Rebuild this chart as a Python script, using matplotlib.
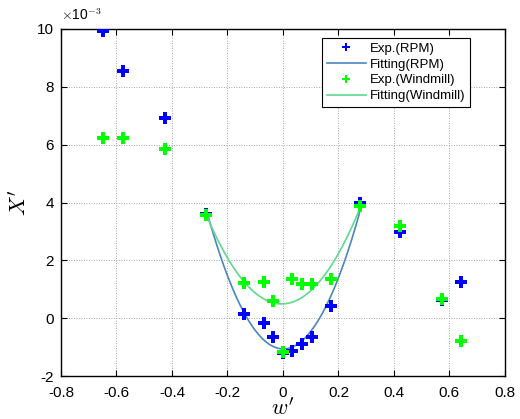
import numpy as np
import matplotlib
matplotlib.use("Agg")
import matplotlib.pyplot as plt
from matplotlib.lines import Line2D

plt.rcParams['font.family'] = ['Liberation Sans', 'DejaVu Sans']
plt.rcParams['mathtext.fontset'] = 'cm'

# Data (X' values in units of 1e-3)
w_rpm = [-0.647, -0.575, -0.424, -0.277, -0.142, -0.070, -0.035, 0.0, 0.034, 0.069, 0.105, 0.174, 0.276, 0.421, 0.575, 0.643]
x_rpm = [9.94, 8.56, 6.93, 3.59, 0.16, -0.15, -0.65, -1.22, -1.12, -0.91, -0.65, 0.43, 3.99, 2.99, 0.62, 1.26]

w_wind = [-0.647, -0.575, -0.424, -0.277, -0.142, -0.070, -0.035, 0.0, 0.034, 0.069, 0.105, 0.174, 0.276, 0.421, 0.575, 0.643]
x_wind = [6.22, 6.24, 5.84, 3.57, 1.20, 1.26, 0.60, -1.17, 1.36, 1.18, 1.17, 1.36, 3.88, 3.19, 0.68, -0.78]

# Fit range
fit_lo, fit_hi = -0.277, 0.276

fig = plt.figure(figsize=(5.2, 4.19), dpi=100)
ax = fig.add_axes([0.1173, 0.1026, 0.8537, 0.8282])

def fit_curve(w, x):
    w = np.array(w); x = np.array(x)
    m = (w >= fit_lo - 1e-9) & (w <= fit_hi + 1e-9)
    p = np.polyfit(w[m], x[m], 2)
    ww = np.linspace(fit_lo, fit_hi, 200)
    return ww, np.polyval(p, ww)

c_rpm_line = '#4a86c0'
c_wind_line = '#5fd88f'

ww, ff = fit_curve(w_rpm, x_rpm)
ax.plot(ww, ff, color=c_rpm_line, lw=1.2, zorder=2)
ww2, ff2 = fit_curve(w_wind, x_wind)
ax.plot(ww2, ff2, color=c_wind_line, lw=1.2, zorder=2)

ax.plot(w_rpm, x_rpm, linestyle='none', marker='P', color='#0000ff', markersize=8, markeredgewidth=0, zorder=3)
ax.plot(w_wind, x_wind, linestyle='none', marker='P', color='#00ff00', markersize=8, markeredgewidth=0, zorder=4)

ax.set_xlim(-0.8, 0.8)
ax.set_ylim(-2, 10)
ax.set_xticks(np.arange(-0.8, 0.81, 0.2))
ax.set_xticklabels(['-0.8', '-0.6', '-0.4', '-0.2', '0', '0.2', '0.4', '0.6', '0.8'])
ax.set_yticks([-2, 0, 2, 4, 6, 8, 10])
ax.set_yticklabels(['-2', '0', '2', '4', '6', '8', '10'])
ax.tick_params(direction='in', length=4, labelsize=11, colors='#000000', top=True, right=True, width=0.8)
ax.tick_params(axis='x', pad=7)
ax.tick_params(axis='y', pad=5)
ax.grid(True, linestyle=(0, (1, 2)), color='#888888', linewidth=0.6)
for s in ax.spines.values():
    s.set_linewidth(1.0)

ax.set_xlabel(r"$w'$", fontsize=16, labelpad=-1)
ax.set_ylabel(r"$X'$", fontsize=16, labelpad=4)

fig.text(0.117, 0.945, r'$\times$10$^{-3}$', fontsize=10, ha='left', va='bottom',
         family=['Liberation Sans', 'DejaVu Sans'])

handles = [
    Line2D([], [], linestyle='none', marker='P', color='#0000ff', markersize=6, markeredgewidth=0),
    Line2D([], [], color=c_rpm_line, lw=1.2),
    Line2D([], [], linestyle='none', marker='P', color='#00ff00', markersize=6, markeredgewidth=0),
    Line2D([], [], color=c_wind_line, lw=1.2),
]
labels = ['Exp.(RPM)', 'Fitting(RPM)', 'Exp.(Windmill)', 'Fitting(Windmill)']
leg = ax.legend(handles, labels, loc='upper left', bbox_to_anchor=(0.588, 0.974), fontsize=9.5,
                frameon=True, fancybox=False, edgecolor='black', framealpha=1,
                handlelength=3.0, handletextpad=0.3, labelspacing=0.27, borderpad=0.35,
                borderaxespad=0)
leg.get_frame().set_linewidth(0.8)

fig.savefig('out.png', dpi=100)
